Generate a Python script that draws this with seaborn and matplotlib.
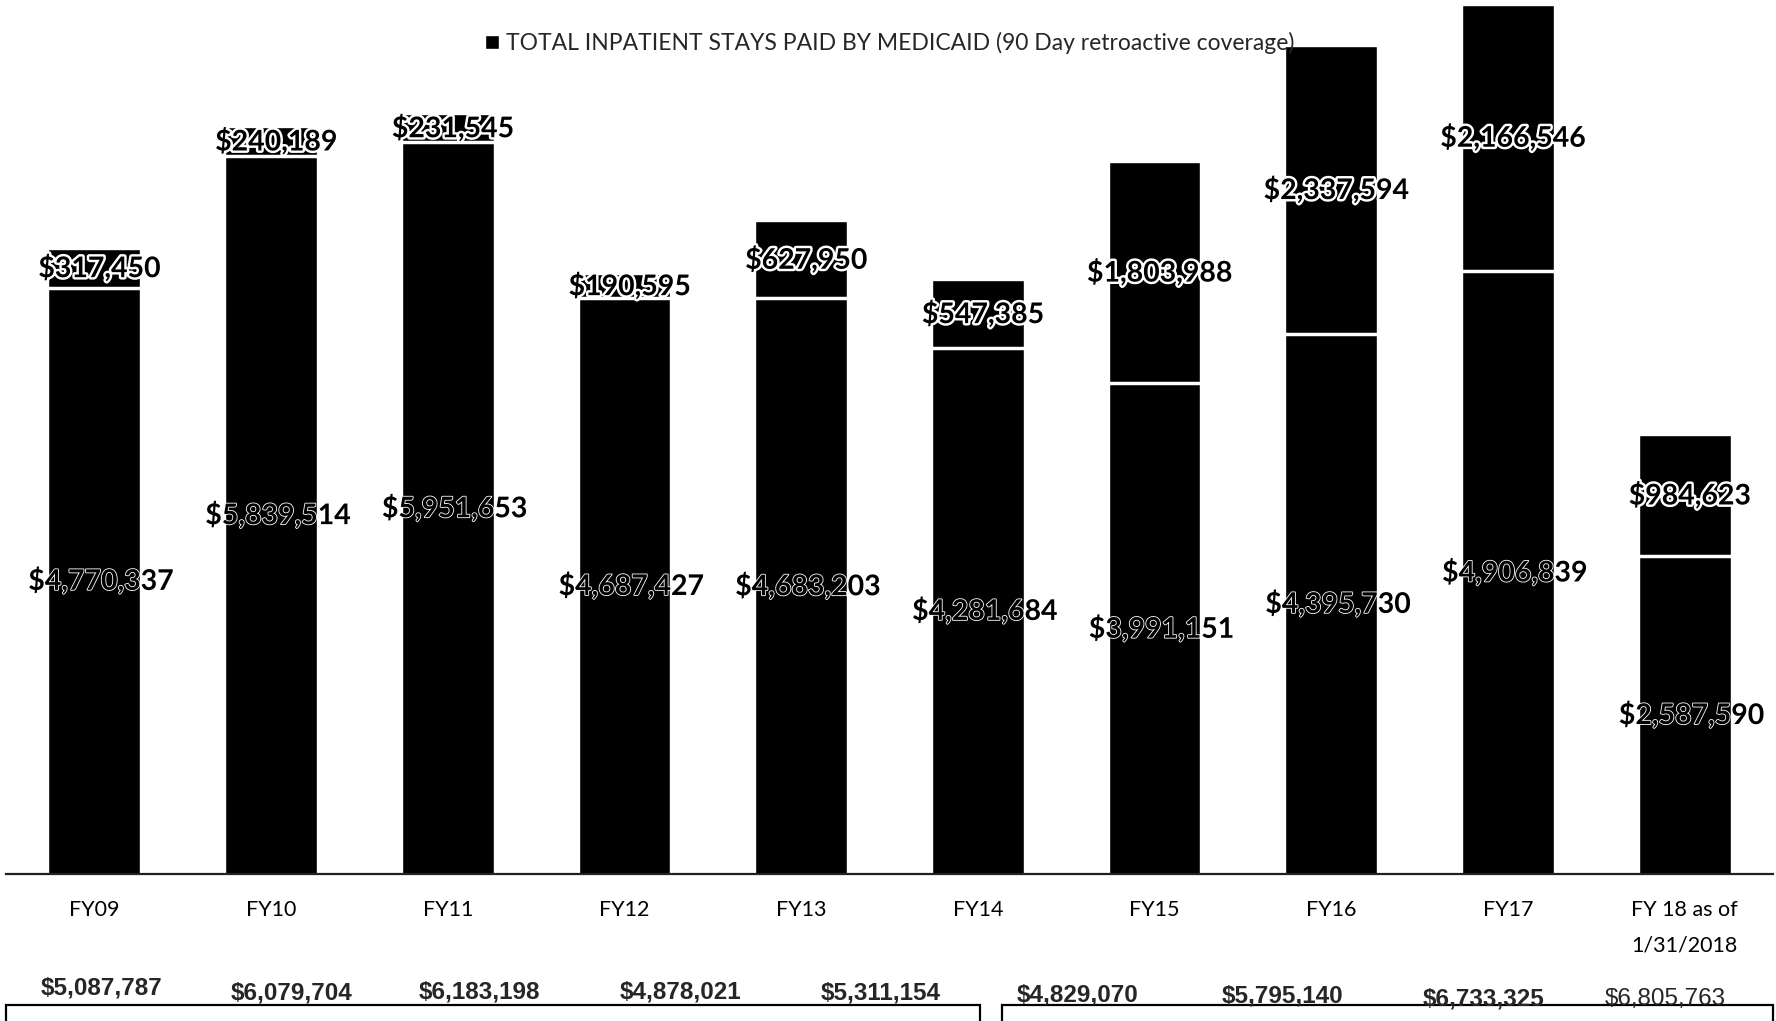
import matplotlib
matplotlib.use("Agg")
import matplotlib.pyplot as plt
import matplotlib.patheffects as pe
from matplotlib.patches import Rectangle
import seaborn as sns
import pandas as pd

# Fiscal years shown on the x axis
categories = ["FY09", "FY10", "FY11", "FY12", "FY13", "FY14", "FY15", "FY16", "FY17",
              "FY 18 as of\n1/31/2018"]
# Lower segment of each stacked bar
lower_vals = [4770337, 5839514, 5951653, 4687427, 4683203, 4281684, 3991151, 4395730,
              4906839, 2587590]
# Upper segment: inpatient stays paid through 90 day retroactive coverage
retro_vals = [317450, 240189, 231545, 190595, 627950, 547385, 1803988, 2337594,
              2166546, 984623]
# Yearly totals printed in the table row under the chart
total_labels = ["$5,087,787", "$6,079,704", "$6,183,198", "$4,878,021", "$5,311,154",
                "$4,829,070", "$5,795,140", "$6,733,325", "$6,805,763"]

legend_text = "TOTAL INPATIENT STAYS PAID BY MEDICAID (90 Day retroactive coverage)"

df = pd.DataFrame({
    "year": categories,
    "lower": lower_vals,
    "retro": retro_vals,
})
df["stack"] = df["lower"] + df["retro"]

sns.set_theme(style="white")
plt.rcParams["font.family"] = ["Lato", "DejaVu Sans"]

W, H = 1776, 1021
fig = plt.figure(figsize=(W / 100, H / 100), dpi=100)
ax = fig.add_axes([6 / W, 1 - 874 / H, 1767 / W, 874 / H])

# full stack height first, then the lower segment drawn over it
sns.barplot(data=df, x="year", y="stack", color="black", width=0.52,
            saturation=1, ax=ax, label=legend_text)
n_before = len(ax.patches)
sns.barplot(data=df, x="year", y="lower", color="black", width=0.52,
            saturation=1, ax=ax)
lower_patches = ax.patches[n_before:]

ax.set_ylim(0, 7.11e6)
ax.set_xlim(-0.5, len(categories) - 0.5)
ax.set_xlabel("")
ax.set_ylabel("")
ax.set_yticks([])
for side in ["top", "right", "left"]:
    ax.spines[side].set_visible(False)
ax.spines["bottom"].set_color("#222222")
ax.spines["bottom"].set_linewidth(1.6)
ax.tick_params(axis="x", length=0, pad=19, labelsize=15.5, colors="black")
for t in ax.get_xticklabels():
    t.set_linespacing(1.95)

halo_thick = [pe.withStroke(linewidth=3.5, foreground="white")]
halo_thin = [pe.withStroke(linewidth=1.2, foreground="white")]

for p, lo, rv in zip(lower_patches, df["lower"], df["retro"]):
    xc = p.get_x() + p.get_width() / 2
    # white seam between the two segments
    ax.plot([p.get_x(), p.get_x() + p.get_width()], [lo, lo], color="white",
            lw=2.5, solid_capstyle="butt", zorder=3)
    ax.text(xc + 0.03, lo + rv / 2, f"${rv:,.0f}", ha="center", va="center",
            fontsize=20.5, fontweight="bold", color="black", path_effects=halo_thick,
            zorder=4)
    ax.text(xc + 0.04, lo / 2, f"${lo:,.0f}", ha="center", va="center",
            fontsize=20.5, fontweight="bold", color="black", path_effects=halo_thin,
            zorder=4)

leg = ax.legend(loc="upper center", bbox_to_anchor=(0.5, 1.0), frameon=False,
                fontsize=16.5, handlelength=0.6, handleheight=0.6, handletextpad=0.3,
                borderaxespad=1.0)

# totals row and the table frames beneath the chart
row_x = [102, 292, 479, 680, 881, 1078, 1282, 1484, 1665]
row_y = [988, 993, 992, 992, 993, 995, 996, 999, 999]
for i, (lab, x, y) in enumerate(zip(total_labels, row_x, row_y)):
    fig.text(x / W, 1 - y / H, lab, ha="center", va="center",
             fontsize=17.5, family="Liberation Sans",
             fontweight="normal" if i == len(total_labels) - 1 else "bold")

for x0, x1 in [(6, 980), (1002, 1773)]:
    fig.patches.append(Rectangle((x0 / W, -0.05), (x1 - x0) / W, 0.05 + 1 - 1005 / H,
                                 transform=fig.transFigure, fill=False,
                                 edgecolor="black", linewidth=1.6))

fig.savefig("out.png", dpi=100, facecolor="white")
